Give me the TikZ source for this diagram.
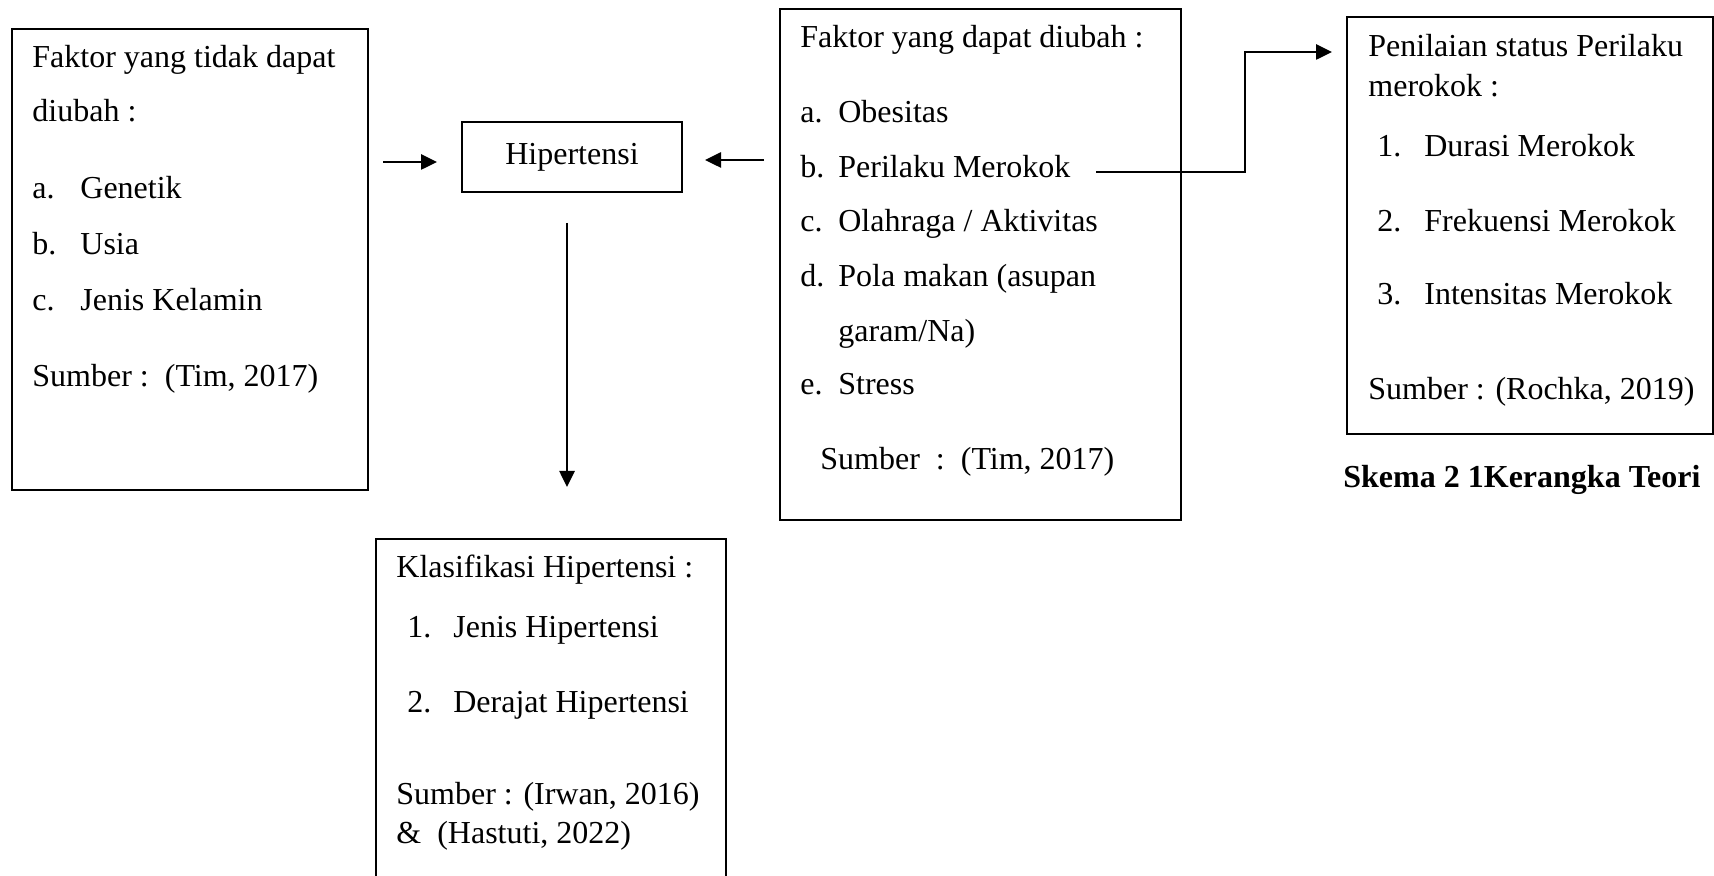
\documentclass[tikz,border=0pt]{standalone}
\usepackage{fontspec}
\setmainfont{Liberation Serif}
\usetikzlibrary{arrows.meta}
\newcommand{\butir}[2]{\makebox[#1][l]{#2}}

\begin{document}
\begin{tikzpicture}[x=0.5pt, y=-0.5pt,
        every node/.style={font=\fontsize{16}{19}\selectfont},
        kotak/.style={draw, line width=1pt, inner sep=0pt, anchor=north west},
        teks/.style={anchor=base west, inner sep=0pt},
        panah/.style={line width=1.3pt, -{Triangle[length=8pt, width=7.5pt]}}]
        \useasboundingbox (0,0) rectangle (1714,876);
        \clip (0,0) rectangle (1714,876);
        % kotak
        \node[kotak, minimum width=178pt, minimum height=230.5pt] (tetap) at (11,28) {};
        \node[kotak, minimum width=110pt, minimum height=35pt] (hipertensi) at (461,121) {Hipertensi};
        \node[kotak, minimum width=200.5pt, minimum height=255.5pt] (ubah) at (779,8) {};
        \node[kotak, minimum width=183pt, minimum height=208.5pt] (nilai) at (1346,16) {};
        \node[kotak, minimum width=175pt, minimum height=181pt] (klasifikasi) at (375,538) {};
        % faktor yang tidak dapat diubah
        \node[teks] (t1) at (32,68) {Faktor yang tidak dapat};
        \node[teks] (t2) at (32,122) {diubah :};
        \node[teks] (t3) at (32,199) {\butir{24pt}{a.}Genetik};
        \node[teks] (t4) at (32,255) {\butir{24pt}{b.}Usia};
        \node[teks] (t5) at (32,311) {\butir{24pt}{c.}Jenis Kelamin};
        \node[teks] (t6) at (32,387) {Sumber :\ \ (Tim, 2017)};
        % faktor yang dapat diubah
        \node[teks] (u1) at (800,48) {Faktor yang dapat diubah :};
        \node[teks] (u2) at (800,123) {\butir{19pt}{a.}Obesitas};
        \node[teks] (u3) at (800,178) {\butir{19pt}{b.}Perilaku Merokok};
        \node[teks] (u4) at (800,232) {\butir{19pt}{c.}Olahraga / Aktivitas};
        \node[teks] (u5) at (800,287) {\butir{19pt}{d.}Pola makan (asupan};
        \node[teks] (u6) at (838,342) {garam/Na)};
        \node[teks] (u7) at (800,395) {\butir{19pt}{e.}Stress};
        \node[teks] (u8) at (820,470) {Sumber\ \ :\ \ (Tim, 2017)};
        % penilaian perilaku merokok
        \node[teks] (n1) at (1368,57) {Penilaian status Perilaku};
        \node[teks] (n2) at (1368,97) {merokok :};
        \node[teks] (n3) at (1377,157) {\butir{23.5pt}{1.}Durasi Merokok};
        \node[teks] (n4) at (1377,232) {\butir{23.5pt}{2.}Frekuensi Merokok};
        \node[teks] (n5) at (1377,305) {\butir{23.5pt}{3.}Intensitas Merokok};
        \node[teks] (n6) at (1368,400) {Sumber : (Rochka, 2019)};
        \node[teks, font=\bfseries\fontsize{16}{19}\selectfont] (judul) at (1343,488) {Skema 2 1Kerangka Teori};
        % klasifikasi hipertensi
        \node[teks] (k1) at (396,578) {Klasifikasi Hipertensi :};
        \node[teks] (k2) at (407,638) {\butir{23pt}{1.}Jenis Hipertensi};
        \node[teks] (k3) at (407,712) {\butir{23pt}{2.}Derajat Hipertensi};
        \node[teks] (k4) at (396,804) {Sumber : (Irwan, 2016)};
        \node[teks] (k5) at (396,843) {\&\ \ (Hastuti, 2022)};
        % panah
        \coordinate (a1) at (383,162);
        \coordinate (a2) at (437,162);
        \coordinate (b1) at (764,160);
        \coordinate (b2) at (705,160);
        \coordinate (c1) at (567,223);
        \coordinate (c2) at (567,487);
        \coordinate (d1) at (1096,172);
        \coordinate (d2) at (1332,52);
        \draw[panah] (a1) -- (a2);
        \draw[panah] (b1) -- (b2);
        \draw[panah] (c1) -- (c2);
        \draw[panah] (d1) -- ++(149,0) |- (d2);
    \end{tikzpicture}
\end{document}
